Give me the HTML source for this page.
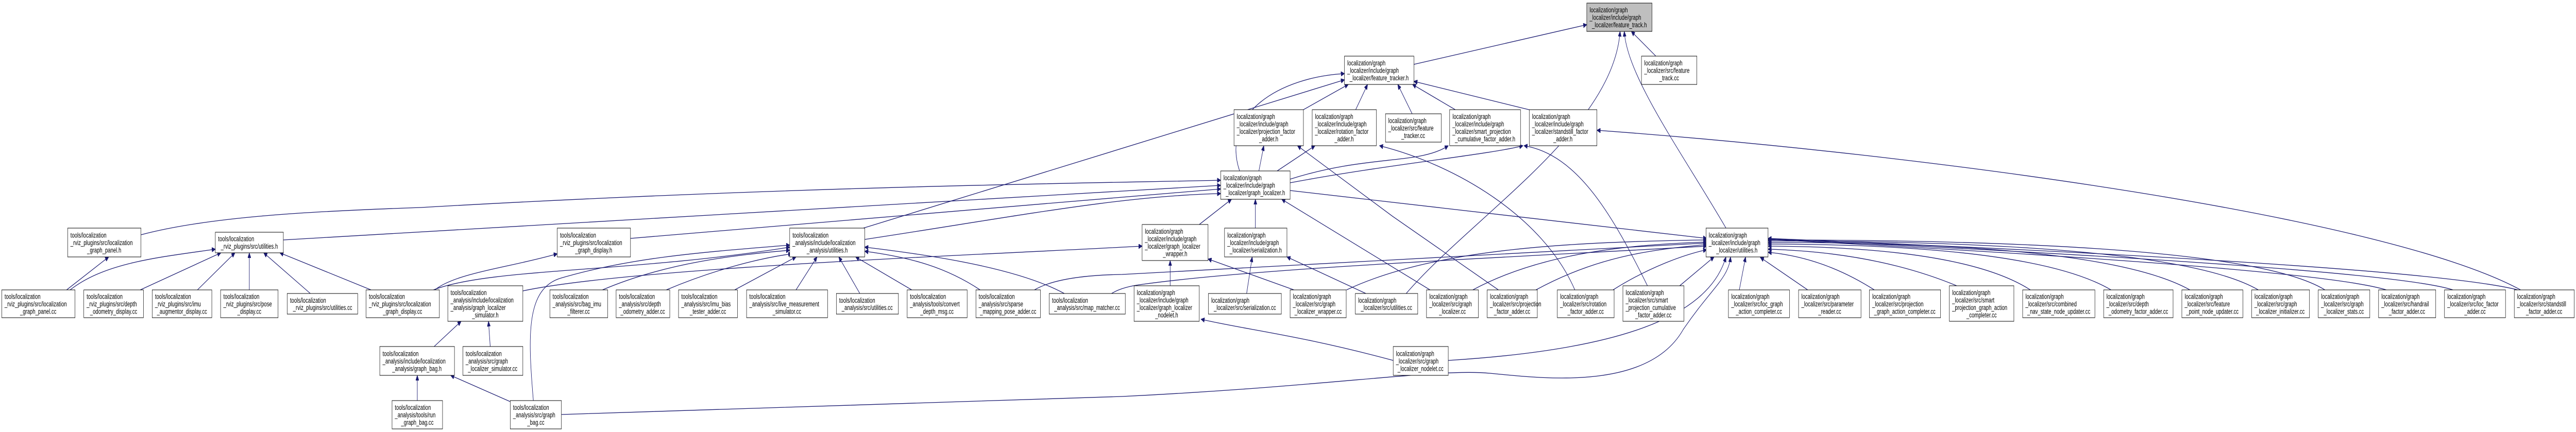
<!DOCTYPE html>
<html><head><meta charset="utf-8"><style>
html,body{margin:0;padding:0;background:#fff;overflow:hidden;width:100%;height:100%}
svg{display:block;position:absolute;left:0;top:0;width:100vw;height:100vh}
text{font-family:"Liberation Sans",sans-serif;font-size:14px;fill:#000}
.c{text-anchor:middle}
rect{fill:#fff;stroke:#000;stroke-width:1}
rect.g{fill:#bfbfbf}
path{fill:none;stroke:#191970;stroke-width:1.3}
</style></head><body>
<svg viewBox="0 0 7346 839" preserveAspectRatio="none" xmlns="http://www.w3.org/2000/svg">
<defs><marker id="a" markerUnits="userSpaceOnUse" markerWidth="11" markerHeight="9" refX="10" refY="4.5" orient="auto"><path d="M0,0 L10,4.5 L0,9 z" style="fill:#191970;stroke:#191970;stroke-width:1"/></marker></defs>
<g marker-end="url(#a)">
<path d="M4032 125 L4525 48"/>
<path d="M4722 109 L4652 61"/>
<path d="M4010 570 C4200 420, 4600 250, 4620 61"/>
<path d="M4922 443 C4800 300, 4640 150, 4632 61"/>
<path d="M3535 332 C3480 220, 3650 150, 3834 143"/>
<path d="M2462 443 L3834 155"/>
<path d="M3717 213 L3845 164"/>
<path d="M3866 213 L3900 164"/>
<path d="M4027 221 L3986 164"/>
<path d="M4150 213 L4028 164"/>
<path d="M4372 215 L4032 158"/>
<path d="M7188 563 C6800 420, 5500 300, 4554 253"/>
<path d="M3590 332 L3604 283"/>
<path d="M3642 332 L3750 283"/>
<path d="M3679 348 C3900 300, 4050 320, 4130 283"/>
<path d="M3679 355 C3950 320, 4250 300, 4343 283"/>
<path d="M4273 563 L3971 420 L3700 283"/>
<path d="M4491 563 C4400 420, 4150 320, 3934 283"/>
<path d="M4698 555 C4600 420, 4500 300, 4346 283"/>
<path d="M4078 563 L3655 387"/>
<path d="M3679 370 L4867 463"/>
<path d="M3420 436 L3512 387"/>
<path d="M3580 443 L3580 387"/>
<path d="M3337 555 L3337 506"/>
<path d="M3690 563 L3445 503"/>
<path d="M3555 570 L3571 499"/>
<path d="M3895 570 L3670 499"/>
<path d="M3973 700 C3700 650, 3550 640, 3425 620"/>
<path d="M3840 563 C4100 480, 4500 470, 4867 466"/>
<path d="M4200 563 C4400 490, 4650 475, 4867 470"/>
<path d="M4380 563 C4550 500, 4700 485, 4867 475"/>
<path d="M4600 563 C4700 520, 4800 495, 4867 485"/>
<path d="M4790 555 L4888 499"/>
<path d="M4130 700 C4600 680, 4870 620, 4922 499"/>
<path d="M1601 805 L3200 770 C3800 750, 4100 715, 4250 725 C4400 735, 4700 760, 4800 640 C4880 560, 4930 540, 4935 499"/>
<path d="M4960 563 L4978 499"/>
<path d="M5155 563 L5020 500"/>
<path d="M5345 563 Q5200 500, 5042 490"/>
<path d="M5580 555 Q5350 490, 5042 484"/>
<path d="M5790 563 Q5600 480, 5042 478"/>
<path d="M6020 563 Q5800 475, 5042 474"/>
<path d="M6245 563 Q6000 470, 5042 471"/>
<path d="M6440 563 Q6200 468, 5042 468"/>
<path d="M6630 563 Q6400 466, 5042 466"/>
<path d="M6805 563 Q6600 520, 5042 465"/>
<path d="M6995 563 Q6800 520, 5042 464"/>
<path d="M7180 563 Q6900 515, 5042 463"/>
<path d="M190 563 L310 499"/>
<path d="M200 563 C300 510, 450 500, 614 484"/>
<path d="M400 563 L630 491"/>
<path d="M563 563 L670 491"/>
<path d="M711 563 L711 491"/>
<path d="M885 570 L752 491"/>
<path d="M1058 563 L798 491"/>
<path d="M402 456 C600 420, 900 410, 1200 403 C2300 360, 3200 355, 3481 350"/>
<path d="M808 466 L3481 360"/>
<path d="M1798 463 L3481 367"/>
<path d="M2466 465 C2900 420, 3200 380, 3481 376"/>
<path d="M1240 563 C1300 530, 1450 520, 1589 493"/>
<path d="M1236 563 C1400 520, 1800 530, 2252 480"/>
<path d="M1238 673 L1315 624"/>
<path d="M1398 673 L1393 624"/>
<path d="M1190 778 L1190 729"/>
<path d="M1455 780 L1285 729"/>
<path d="M1491 565 C1800 520, 2800 495, 3257 478"/>
<path d="M1521 778 C1505 650, 1500 560, 1600 540 C1800 500, 2000 490, 2252 476"/>
<path d="M1718 563 C1900 510, 2100 495, 2252 486"/>
<path d="M1900 563 C2050 520, 2180 500, 2258 493"/>
<path d="M2095 563 L2270 499"/>
<path d="M2270 563 L2330 499"/>
<path d="M2452 570 L2392 499"/>
<path d="M2600 563 L2440 499"/>
<path d="M2795 563 C2700 520, 2600 500, 2466 488"/>
<path d="M3035 570 C2900 520, 2650 495, 2466 480"/>
<path d="M2950 563 Q3020 535, 3200 533 L4867 472"/>
<path d="M3170 570 Q3200 557, 3260 552 C3600 520, 4300 500, 4867 478"/>
</g>

<g>
<rect class="g" x="4525" y="6" width="186" height="55"/>
<text x="4533" y="24">localization/graph</text><text x="4533" y="38.5">_localizer/include/graph</text><text class="c" x="4618" y="53">_localizer/feature_track.h</text>

<rect x="3834" y="109" width="198" height="55"/>
<text x="3842" y="127">localization/graph</text><text x="3842" y="141.5">_localizer/include/graph</text><text class="c" x="3933" y="156">_localizer/feature_tracker.h</text>
<rect x="4681" y="109" width="158" height="55"/>
<text x="4689" y="127">localization/graph</text><text x="4689" y="141.5">_localizer/src/feature</text><text class="c" x="4760" y="156">_track.cc</text>

<rect x="3519" y="213" width="198" height="70"/>
<text x="3527" y="231">localization/graph</text><text x="3527" y="245.5">_localizer/include/graph</text><text x="3527" y="260">_localizer/projection_factor</text><text class="c" x="3618" y="274.5">_adder.h</text>
<rect x="3742" y="213" width="183" height="70"/>
<text x="3750" y="231">localization/graph</text><text x="3750" y="245.5">_localizer/include/graph</text><text x="3750" y="260">_localizer/rotation_factor</text><text class="c" x="3833" y="274.5">_adder.h</text>
<rect x="3951" y="221" width="159" height="55"/>
<text x="3959" y="239">localization/graph</text><text x="3959" y="253.5">_localizer/src/feature</text><text class="c" x="4030" y="268">_tracker.cc</text>
<rect x="4134" y="213" width="202" height="70"/>
<text x="4142" y="231">localization/graph</text><text x="4142" y="245.5">_localizer/include/graph</text><text x="4142" y="260">_localizer/smart_projection</text><text class="c" x="4235" y="274.5">_cumulative_factor_adder.h</text>
<rect x="4361" y="213" width="193" height="70"/>
<text x="4369" y="231">localization/graph</text><text x="4369" y="245.5">_localizer/include/graph</text><text x="4369" y="260">_localizer/standstill_factor</text><text class="c" x="4457" y="274.5">_adder.h</text>

<rect x="3481" y="332" width="198" height="55"/>
<text x="3489" y="350">localization/graph</text><text x="3489" y="364.5">_localizer/include/graph</text><text class="c" x="3580" y="379">_localizer/graph_localizer.h</text>

<rect x="193" y="443" width="209" height="56"/>
<text x="201" y="461.5">tools/localization</text><text x="201" y="476">_rviz_plugins/src/localization</text><text class="c" x="297" y="490.5">_graph_panel.h</text>
<rect x="614" y="451" width="194" height="40"/>
<text x="622" y="468.5">tools/localization</text><text class="c" x="711" y="483">_rviz_plugins/src/utilities.h</text>
<rect x="1589" y="443" width="209" height="56"/>
<text x="1597" y="461.5">tools/localization</text><text x="1597" y="476">_rviz_plugins/src/localization</text><text class="c" x="1693" y="490.5">_graph_display.h</text>
<rect x="2252" y="443" width="214" height="56"/>
<text x="2260" y="461.5">tools/localization</text><text x="2260" y="476">_analysis/include/localization</text><text class="c" x="2359" y="490.5">_analysis/utilities.h</text>
<rect x="3257" y="436" width="188" height="70"/>
<text x="3265" y="454">localization/graph</text><text x="3265" y="468.5">_localizer/include/graph</text><text x="3265" y="483">_localizer/graph_localizer</text><text class="c" x="3351" y="497.5">_wrapper.h</text>
<rect x="3492" y="443" width="178" height="56"/>
<text x="3500" y="461.5">localization/graph</text><text x="3500" y="476">_localizer/include/graph</text><text class="c" x="3581" y="490.5">_localizer/serialization.h</text>
<rect x="4865" y="443" width="177" height="56"/>
<text x="4873" y="461.5">localization/graph</text><text x="4873" y="476">_localizer/include/graph</text><text class="c" x="4953" y="490.5">_localizer/utilities.h</text>

<rect x="5" y="563" width="209" height="54"/>
<text x="13" y="580.5">tools/localization</text><text x="13" y="595">_rviz_plugins/src/localization</text><text class="c" x="109" y="609.5">_graph_panel.cc</text>
<rect x="239" y="563" width="170" height="54"/>
<text x="247" y="580.5">tools/localization</text><text x="247" y="595">_rviz_plugins/src/depth</text><text class="c" x="324" y="609.5">_odometry_display.cc</text>
<rect x="434" y="563" width="170" height="54"/>
<text x="442" y="580.5">tools/localization</text><text x="442" y="595">_rviz_plugins/src/imu</text><text class="c" x="519" y="609.5">_augmentor_display.cc</text>
<rect x="629" y="563" width="164" height="54"/>
<text x="637" y="580.5">tools/localization</text><text x="637" y="595">_rviz_plugins/src/pose</text><text class="c" x="711" y="609.5">_display.cc</text>
<rect x="819" y="570" width="201" height="40"/>
<text x="827" y="588">tools/localization</text><text class="c" x="920" y="602">_rviz_plugins/src/utilities.cc</text>
<rect x="1044" y="563" width="209" height="54"/>
<text x="1052" y="580.5">tools/localization</text><text x="1052" y="595">_rviz_plugins/src/localization</text><text class="c" x="1148" y="609.5">_graph_display.cc</text>
<rect x="1277" y="555" width="214" height="69"/>
<text x="1285" y="573">tools/localization</text><text x="1285" y="587.5">_analysis/include/localization</text><text x="1285" y="602">_analysis/graph_localizer</text><text class="c" x="1384" y="616.5">_simulator.h</text>
<rect x="1568" y="563" width="165" height="54"/>
<text x="1576" y="580.5">tools/localization</text><text x="1576" y="595">_analysis/src/bag_imu</text><text class="c" x="1650" y="609.5">_filterer.cc</text>
<rect x="1757" y="563" width="153" height="54"/>
<text x="1765" y="580.5">tools/localization</text><text x="1765" y="595">_analysis/src/depth</text><text class="c" x="1833" y="609.5">_odometry_adder.cc</text>
<rect x="1935" y="563" width="168" height="54"/>
<text x="1943" y="580.5">tools/localization</text><text x="1943" y="595">_analysis/src/imu_bias</text><text class="c" x="2019" y="609.5">_tester_adder.cc</text>
<rect x="2129" y="563" width="231" height="54"/>
<text x="2137" y="580.5">tools/localization</text><text x="2137" y="595">_analysis/src/live_measurement</text><text class="c" x="2244" y="609.5">_simulator.cc</text>
<rect x="2385" y="570" width="177" height="40"/>
<text x="2393" y="588">tools/localization</text><text class="c" x="2473" y="602">_analysis/src/utilities.cc</text>
<rect x="2587" y="563" width="171" height="54"/>
<text x="2595" y="580.5">tools/localization</text><text x="2595" y="595">_analysis/tools/convert</text><text class="c" x="2672" y="609.5">_depth_msg.cc</text>
<rect x="2783" y="563" width="184" height="54"/>
<text x="2791" y="580.5">tools/localization</text><text x="2791" y="595">_analysis/src/sparse</text><text class="c" x="2875" y="609.5">_mapping_pose_adder.cc</text>
<rect x="2992" y="570" width="217" height="40"/>
<text x="3000" y="588">tools/localization</text><text class="c" x="3100" y="602">_analysis/src/map_matcher.cc</text>
<rect x="3234" y="555" width="186" height="69"/>
<text x="3242" y="573">localization/graph</text><text x="3242" y="587.5">_localizer/include/graph</text><text x="3242" y="602">_localizer/graph_localizer</text><text class="c" x="3327" y="616.5">_nodelet.h</text>
<rect x="3446" y="570" width="208" height="40"/>
<text x="3454" y="588">localization/graph</text><text class="c" x="3550" y="602">_localizer/src/serialization.cc</text>
<rect x="3679" y="563" width="160" height="54"/>
<text x="3687" y="580.5">localization/graph</text><text x="3687" y="595">_localizer/src/graph</text><text class="c" x="3759" y="609.5">_localizer_wrapper.cc</text>
<rect x="3865" y="570" width="178" height="40"/>
<text x="3873" y="588">localization/graph</text><text class="c" x="3954" y="602">_localizer/src/utilities.cc</text>
<rect x="4068" y="563" width="148" height="54"/>
<text x="4076" y="580.5">localization/graph</text><text x="4076" y="595">_localizer/src/graph</text><text class="c" x="4142" y="609.5">_localizer.cc</text>
<rect x="4241" y="563" width="143" height="54"/>
<text x="4249" y="580.5">localization/graph</text><text x="4249" y="595">_localizer/src/projection</text><text class="c" x="4312" y="609.5">_factor_adder.cc</text>
<rect x="4441" y="563" width="162" height="54"/>
<text x="4449" y="580.5">localization/graph</text><text x="4449" y="595">_localizer/src/rotation</text><text class="c" x="4522" y="609.5">_factor_adder.cc</text>
<rect x="4628" y="555" width="174" height="69"/>
<text x="4636" y="573">localization/graph</text><text x="4636" y="587.5">_localizer/src/smart</text><text x="4636" y="602">_projection_cumulative</text><text class="c" x="4715" y="616.5">_factor_adder.cc</text>
<rect x="4929" y="563" width="174" height="54"/>
<text x="4937" y="580.5">localization/graph</text><text x="4937" y="595">_localizer/src/loc_graph</text><text class="c" x="5016" y="609.5">_action_completer.cc</text>
<rect x="5129" y="563" width="178" height="54"/>
<text x="5137" y="580.5">localization/graph</text><text x="5137" y="595">_localizer/src/parameter</text><text class="c" x="5218" y="609.5">_reader.cc</text>
<rect x="5331" y="563" width="203" height="54"/>
<text x="5339" y="580.5">localization/graph</text><text x="5339" y="595">_localizer/src/projection</text><text class="c" x="5432" y="609.5">_graph_action_completer.cc</text>
<rect x="5559" y="555" width="184" height="69"/>
<text x="5567" y="573">localization/graph</text><text x="5567" y="587.5">_localizer/src/smart</text><text x="5567" y="602">_projection_graph_action</text><text class="c" x="5651" y="616.5">_completer.cc</text>
<rect x="5768" y="563" width="206" height="54"/>
<text x="5776" y="580.5">localization/graph</text><text x="5776" y="595">_localizer/src/combined</text><text class="c" x="5871" y="609.5">_nav_state_node_updater.cc</text>
<rect x="5999" y="563" width="198" height="54"/>
<text x="6007" y="580.5">localization/graph</text><text x="6007" y="595">_localizer/src/depth</text><text class="c" x="6098" y="609.5">_odometry_factor_adder.cc</text>
<rect x="6222" y="563" width="174" height="54"/>
<text x="6230" y="580.5">localization/graph</text><text x="6230" y="595">_localizer/src/feature</text><text class="c" x="6309" y="609.5">_point_node_updater.cc</text>
<rect x="6421" y="563" width="165" height="54"/>
<text x="6429" y="580.5">localization/graph</text><text x="6429" y="595">_localizer/src/graph</text><text class="c" x="6503" y="609.5">_localizer_initializer.cc</text>
<rect x="6611" y="563" width="147" height="54"/>
<text x="6619" y="580.5">localization/graph</text><text x="6619" y="595">_localizer/src/graph</text><text class="c" x="6684" y="609.5">_localizer_stats.cc</text>
<rect x="6783" y="563" width="163" height="54"/>
<text x="6791" y="580.5">localization/graph</text><text x="6791" y="595">_localizer/src/handrail</text><text class="c" x="6864" y="609.5">_factor_adder.cc</text>
<rect x="6971" y="563" width="174" height="54"/>
<text x="6979" y="580.5">localization/graph</text><text x="6979" y="595">_localizer/src/loc_factor</text><text class="c" x="7058" y="609.5">_adder.cc</text>
<rect x="7170" y="563" width="171" height="54"/>
<text x="7178" y="580.5">localization/graph</text><text x="7178" y="595">_localizer/src/standstill</text><text class="c" x="7255" y="609.5">_factor_adder.cc</text>

<rect x="1083" y="673" width="213" height="56"/>
<text x="1091" y="691.5">tools/localization</text><text x="1091" y="706">_analysis/include/localization</text><text class="c" x="1189" y="720.5">_analysis/graph_bag.h</text>
<rect x="1320" y="673" width="171" height="56"/>
<text x="1328" y="691.5">tools/localization</text><text x="1328" y="706">_analysis/src/graph</text><text class="c" x="1405" y="720.5">_localizer_simulator.cc</text>
<rect x="3973" y="673" width="157" height="56"/>
<text x="3981" y="691.5">localization/graph</text><text x="3981" y="706">_localizer/src/graph</text><text class="c" x="4051" y="720.5">_localizer_nodelet.cc</text>

<rect x="1118" y="778" width="144" height="55"/>
<text x="1126" y="796">tools/localization</text><text x="1126" y="810.5">_analysis/tools/run</text><text class="c" x="1190" y="825">_graph_bag.cc</text>
<rect x="1455" y="778" width="146" height="55"/>
<text x="1463" y="796">tools/localization</text><text x="1463" y="810.5">_analysis/src/graph</text><text class="c" x="1528" y="825">_bag.cc</text>
</g>
</svg>
</body></html>
